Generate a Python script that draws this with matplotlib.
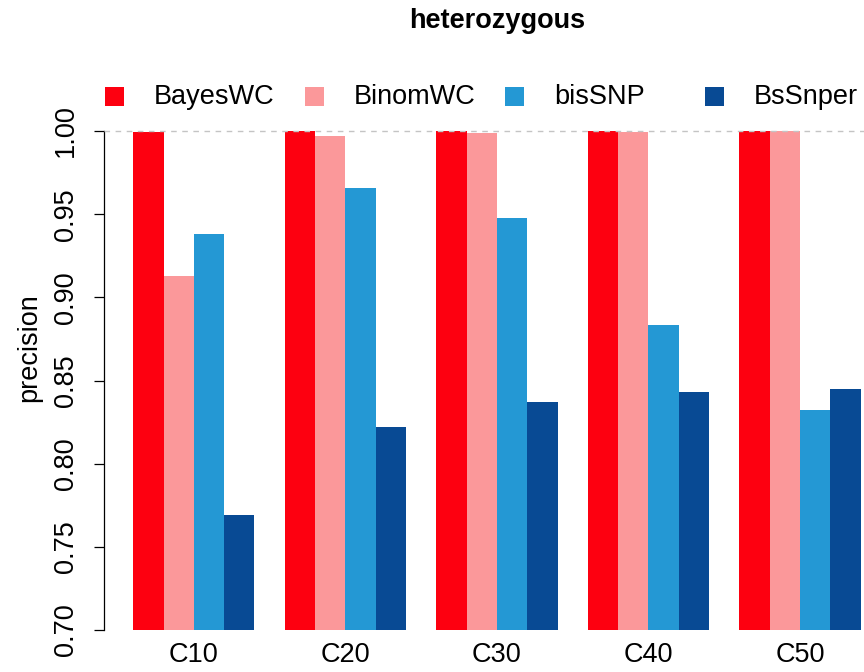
import numpy as np
import matplotlib
matplotlib.use("Agg")
import matplotlib.pyplot as plt
from matplotlib.patches import Rectangle

plt.rcParams['font.family'] = ['Liberation Sans', 'DejaVu Sans']

# precision of heterozygous calls per coverage level
coverages = ["C10", "C20", "C30", "C40", "C50"]
methods = ["BayesWC", "BinomWC", "bisSNP", "BsSnper"]
bayeswc = [0.9992, 1.0000, 1.0000, 1.0000, 1.0000]
binomwc = [0.9128, 0.9970, 0.9990, 0.9997, 0.9999]
bissnp = [0.9380, 0.9657, 0.9477, 0.8834, 0.8323]
bssnper = [0.7694, 0.8220, 0.8373, 0.8429, 0.8449]
colors = ["#fd0010", "#fb989a", "#2498d4", "#084a94"]

series = [bayeswc, binomwc, bissnp, bssnper]

fig = plt.figure(figsize=(8.64, 6.72), dpi=100)
W, H = 864, 672
# axes box in pixels (x from 0.04 to 25.96 bar units)
left_px, right_px = 104.2, 889.6
top_px, bot_px = 64.5, 630
ax = fig.add_axes([left_px / W, 1 - bot_px / H,
                   (right_px - left_px) / W, (bot_px - top_px) / H])

fs = 19.5
nser = len(series)
# bars grouped like R barplot(beside=TRUE): one bar-width gap before each group
for j, (vals, col) in enumerate(zip(series, colors)):
    xs = [1 + g * (nser + 1) + j for g in range(len(coverages))]
    ax.bar(xs, vals, width=1.0, align='edge', color=col, linewidth=0, zorder=2)

ax.axhline(1.0, color="#c4c4c4", lw=1.0, ls=(0, (4, 4)), zorder=3)

ax.set_xlim(0.04, 25.96)
ax.set_ylim(0.70, 1.04)

centers = [1 + g * (nser + 1) + nser / 2 for g in range(len(coverages))]
ax.set_xticks(centers)
ax.set_xticklabels(coverages, fontsize=fs)
ax.tick_params(axis='x', length=0, pad=9)

yt = np.round(np.arange(0.70, 1.001, 0.05), 2)
ax.set_yticks(yt)
ax.set_yticklabels(["%.2f" % v for v in yt], fontsize=fs, rotation=90, va='center')
ax.tick_params(axis='y', length=7.2, width=0.9, pad=11)

for s in ["top", "right", "bottom"]:
    ax.spines[s].set_visible(False)
ax.spines["left"].set_bounds(0.70, 1.00)
ax.spines["left"].set_linewidth(0.9)

ax.set_ylabel("precision", fontsize=fs)
ax.yaxis.set_label_coords((42 - left_px) / (right_px - left_px), 0.5)

ax.set_title("heterozygous", fontsize=fs, fontweight='bold', pad=26)

# horizontal legend inside the top of the plot region
leg_x = [105, 305, 505, 705]
box = 19
for x0, name, col in zip(leg_x, methods, colors):
    fig.patches.append(Rectangle((x0 / W, 1 - 106 / H), box / W, box / H,
                                 transform=fig.transFigure, color=col, lw=0))
    fig.text((x0 + 49) / W, 1 - 97 / H, name, fontsize=fs, va='center', ha='left')

fig.savefig("out.png", dpi=100)
